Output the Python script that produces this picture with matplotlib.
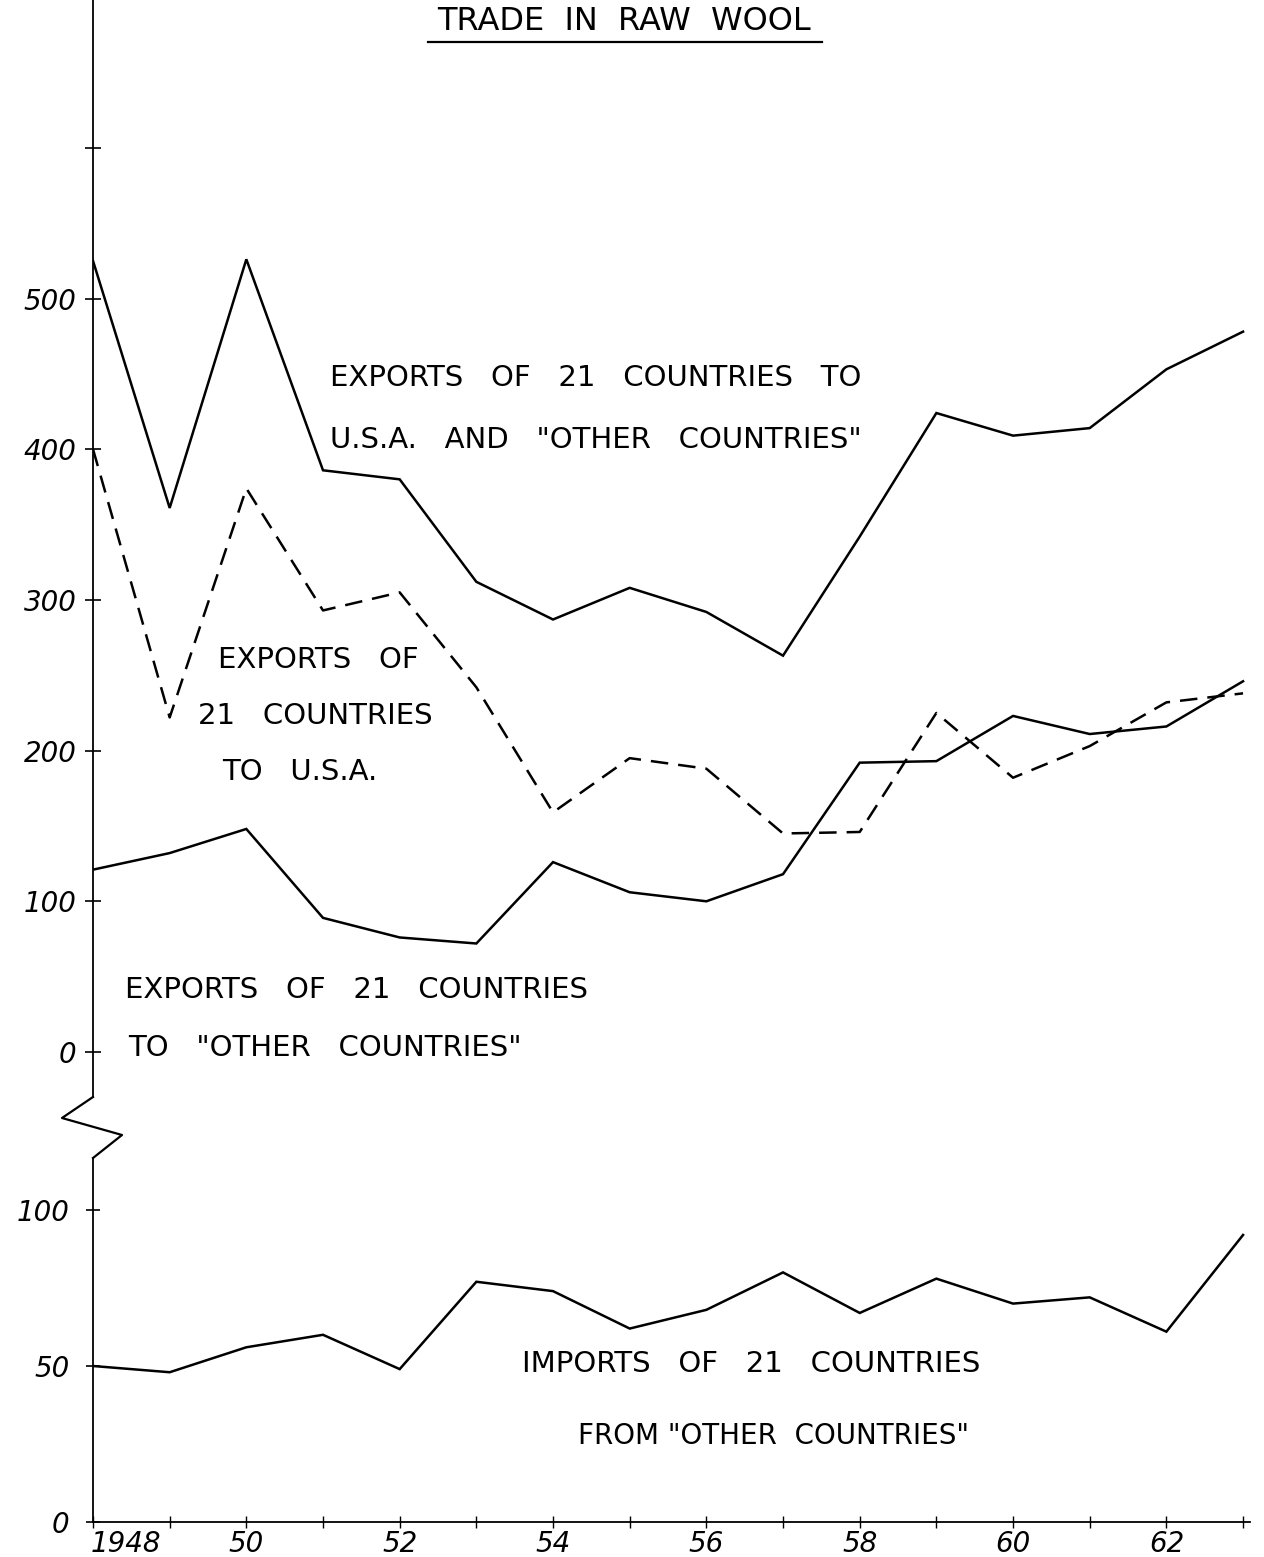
import matplotlib
matplotlib.use("Agg")
import matplotlib.pyplot as plt
from matplotlib.lines import Line2D
import matplotlib.transforms as mtrans

# ---------------- data ----------------
years = list(range(1948, 1964))
exports_total = [525, 361, 526, 386, 380, 312, 287, 308, 292, 263, 342, 424, 409, 414, 453, 478]
exports_usa = [400, 222, 374, 293, 305, 242, 159, 195, 188, 145, 146, 225, 182, 203, 232, 238]
exports_other = [121, 132, 148, 89, 76, 72, 126, 106, 100, 118, 192, 193, 223, 211, 216, 246]
imports_other = [50, 48, 56, 60, 49, 77, 74, 62, 68, 80, 67, 78, 70, 72, 61, 92]

upper_ticks = [0, 100, 200, 300, 400, 500, 600]
upper_labels = ["0", "100", "200", "300", "400", "500", ""]
lower_ticks = [0, 50, 100]
lower_labels = ["0", "50", "100"]
x_major = [1948, 1950, 1952, 1954, 1956, 1958, 1960, 1962]
x_labels = ["1948", "50", "52", "54", "56", "58", "60", "62"]

title = "TRADE  IN  RAW  WOOL"

# ---------------- layout ----------------
W, H = 1264, 1557
fig = plt.figure(figsize=(W / 100, H / 100), dpi=100)

def fx(px):
    return px / W

def fy(py):
    return 1 - py / H

TXT = dict(family="DejaVu Sans", fontsize=21, color="black")

ax_left, ax_right = 93, 1250
x_max = 1948 + (ax_right - ax_left) / 76.67

# upper axes (exports)
up_top, up_bot = 0, 1097
ax1 = fig.add_axes([fx(ax_left), fy(up_bot), fx(ax_right - ax_left), (up_bot - up_top) / H])
ax1.set_xlim(1948, x_max)
ax1.set_ylim((1052 - up_bot) / 1.507, 1052 / 1.507)

# lower axes (imports)
lo_top, lo_bot = 1158, 1522
ax2 = fig.add_axes([fx(ax_left), fy(lo_bot), fx(ax_right - ax_left), (lo_bot - lo_top) / H])
ax2.set_xlim(1948, x_max)
ax2.set_ylim(0, (lo_bot - lo_top) / 3.12)

for ax in (ax1, ax2):
    ax.set_facecolor("none")
    for s in ("top", "right"):
        ax.spines[s].set_visible(False)
    ax.spines["left"].set_linewidth(1.3)
    ax.spines["bottom"].set_linewidth(1.3)

ax1.spines["bottom"].set_visible(False)
ax1.set_xticks([])

lw = 1.8
ax1.plot(years, exports_total, color="black", lw=lw, solid_joinstyle="miter")
ax1.plot(years, exports_usa, color="black", lw=lw, dashes=(7, 4))
ax1.plot(years, exports_other, color="black", lw=lw, solid_joinstyle="miter")
ax2.plot(years, imports_other, color="black", lw=lw, solid_joinstyle="miter")

# y ticks
ax1.set_yticks(upper_ticks)
ax1.set_yticklabels(upper_labels)
ax1.tick_params(axis="y", direction="inout", length=12, width=1.2, pad=6, labelsize=20)
ax2.set_yticks(lower_ticks)
ax2.set_yticklabels(lower_labels)
ax2.tick_params(axis="y", direction="inout", length=10, width=1.2, pad=12, labelsize=20)
for lab in ax1.get_yticklabels() + ax2.get_yticklabels():
    lab.set_fontstyle("italic")
    lab.set_fontfamily("DejaVu Sans")

# x ticks
ax2.set_xticks(years)
ax2.set_xticklabels([x_labels[x_major.index(y)] if y in x_major else "" for y in years])
ax2.tick_params(axis="x", direction="inout", length=8, width=1.0, pad=2, labelsize=20)
for lab in ax2.get_xticklabels():
    lab.set_fontstyle("italic")
    lab.set_fontfamily("DejaVu Sans")
first = ax2.get_xticklabels()[0]
first.set_transform(first.get_transform() + mtrans.ScaledTranslation(0.33, 0, fig.dpi_scale_trans))

# axis break zigzag
zx = [93, 62, 122, 93]
zy = [1097, 1118, 1135, 1158]
fig.add_artist(Line2D([fx(v) for v in zx], [fy(v) for v in zy], color="black", lw=1.6,
                      transform=fig.transFigure))

# title
fig.text(fx(624), fy(22), title, ha="center", va="center", fontsize=23, family="DejaVu Sans")
fig.add_artist(Line2D([fx(428), fx(822)], [fy(42), fy(42)], color="black", lw=1.6,
                      transform=fig.transFigure))

# annotations (figure pixel positions)
def note(x, y, s, size=21):
    fig.text(fx(x), fy(y), s, ha="left", va="center", family="DejaVu Sans",
             fontsize=size, color="black")

note(330, 378, "EXPORTS   OF   21   COUNTRIES   TO")
note(330, 440, 'U.S.A.   AND   "OTHER   COUNTRIES"')
note(218, 660, "EXPORTS   OF")
note(198, 716, "21   COUNTRIES")
note(222, 772, "TO   U.S.A.")
note(125, 990, "EXPORTS   OF   21   COUNTRIES")
note(128, 1048, 'TO   "OTHER   COUNTRIES"')
note(522, 1364, "IMPORTS   OF   21   COUNTRIES")
note(578, 1436, 'FROM "OTHER  COUNTRIES"', size=20)

fig.savefig("out.png", dpi=100)
